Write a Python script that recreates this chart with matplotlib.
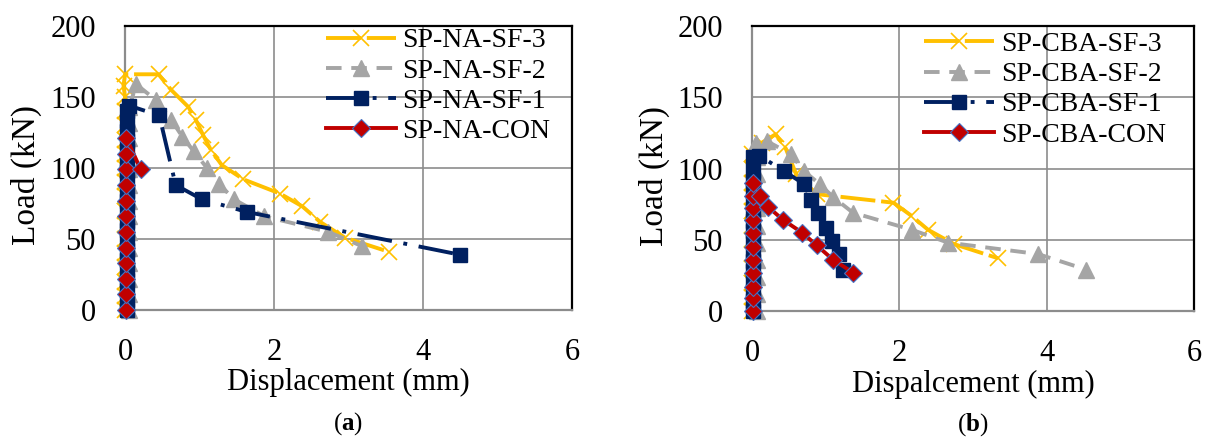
import matplotlib
matplotlib.use("Agg")
import matplotlib.pyplot as plt

plt.rcParams['font.family'] = ['Liberation Serif', 'DejaVu Serif']
plt.rcParams['mathtext.fontset'] = 'custom'
plt.rcParams['mathtext.rm'] = 'Liberation Serif'
plt.rcParams['mathtext.bf'] = 'Liberation Serif:bold'

# (a) natural aggregate specimens
na_sf3_x = [0, 0, 0, 0, 0, 0, 0, 0, 0, 0, 0, 0, 0, 0, 0, 0, -0.02, 0.0,
            0.45, 0.62, 0.85, 0.95, 1.05, 1.15, 1.30, 1.59, 2.08, 2.38, 2.62, 2.95, 3.54]
na_sf3_y = [0, 10, 20, 30, 40, 50, 60, 70, 80, 90, 100, 110, 120, 130, 140, 150, 158, 166,
            166, 155, 143, 134, 123, 113, 102, 92, 82, 73, 62, 51, 41]

na_sf2_x = [0.06, 0.06, 0.06, 0.06, 0.06, 0.06, 0.06, 0.06, 0.06, 0.06, 0.06, 0.06, 0.06, 0.06,
            0.15, 0.41, 0.62, 0.77, 0.92, 1.10, 1.26, 1.46, 1.87, 2.73, 3.18]
na_sf2_y = [0, 11, 22, 33, 44, 55, 66, 77, 88, 99, 110, 121, 132, 143,
            159, 148, 134, 122, 112, 100, 89, 78, 66, 55, 45]

na_sf1_x = [0.03, 0.03, 0.03, 0.03, 0.03, 0.03, 0.03, 0.03, 0.03, 0.03, 0.03,
            0.03, 0.03, 0.03, 0.03, 0.03, 0.03, 0.03, 0.03, 0.03, 0.03,
            0.05, 0.46, 0.68, 1.03, 1.64, 4.49]
na_sf1_y = [0, 7, 14, 21, 28, 35, 42, 49, 56, 63, 70,
            77, 84, 91, 98, 105, 112, 119, 126, 133, 140,
            144, 137, 88, 78, 69, 39]

na_con_x = [0.02, 0.02, 0.02, 0.02, 0.02, 0.02, 0.02, 0.02, 0.02, 0.02, 0.02, 0.02, 0.21]
na_con_y = [0, 11, 22, 33, 44, 55, 66, 77, 88, 99, 110, 121, 99]

# (b) coal bottom ash specimens
cba_sf3_x = [0, 0, 0, 0, 0, 0, 0, 0, 0, 0, 0, 0, 0.13, 0.32, 0.45, 0.60, 0.88,
             1.92, 2.16, 2.39, 2.74, 3.34]
cba_sf3_y = [0, 10, 20, 30, 40, 50, 60, 70, 80, 90, 100, 110, 118, 124, 115, 96, 82,
             76, 67, 57, 47, 37]

cba_sf2_x = [0.07, 0.07, 0.07, 0.07, 0.07, 0.07, 0.07, 0.07, 0.07, 0.07,
             0.05, 0.21, 0.53, 0.71, 0.92, 1.10, 1.37, 2.17, 2.66, 3.88, 4.54]
cba_sf2_y = [0, 12, 24, 36, 48, 60, 72, 84, 96, 108,
             118, 119, 110, 98, 89, 80, 69, 57, 48, 40, 29]

cba_sf1_x = [0.02, 0.02, 0.02, 0.02, 0.02, 0.02, 0.02, 0.02, 0.02, 0.02,
             0.02, 0.02, 0.02, 0.02, 0.02, 0.02,
             0.10, 0.44, 0.71, 0.80, 0.90, 1.00, 1.09, 1.18, 1.24]
cba_sf1_y = [0, 7, 14, 21, 28, 35, 42, 49, 56, 63,
             70, 77, 84, 91, 98, 108,
             109, 98, 89, 78, 69, 58, 49, 40, 29]

cba_con_x = [0.02, 0.02, 0.02, 0.02, 0.02, 0.02, 0.02, 0.02, 0.02, 0.02, 0.02,
             0.11, 0.22, 0.42, 0.68, 0.88, 1.10, 1.37]
cba_con_y = [0, 9, 17, 27, 36, 45, 55, 64, 72, 81, 90,
             81, 73, 64, 55, 46, 36, 27]

YELLOW = '#FFC000'
GRAY = '#A5A5A5'
NAVY = '#002060'
RED = '#C00000'


def draw_panel(ax, series, xlabel, tag, legend_xy):
    sf3, sf2, sf1, con = series
    ax.plot(sf3[0], sf3[1], color=YELLOW, lw=2.8, dashes=(9, 1.5), marker='x',
            ms=12, mew=1.2, label=sf3[2], clip_on=False, zorder=3)
    ax.plot(sf2[0], sf2[1], color=GRAY, lw=2.8, dashes=(4, 2.5), marker='^',
            ms=12, label=sf2[2], clip_on=False, zorder=4)
    ax.plot(sf1[0], sf1[1], color=NAVY, lw=2.8, dashes=(9, 3, 1, 3), marker='s',
            ms=10, label=sf1[2], clip_on=False, zorder=5)
    ax.plot(con[0], con[1], color=RED, lw=2.8, marker='D', ms=9.5,
            mfc=RED, mec='#4472C4', mew=0.8, label=con[2], clip_on=False, zorder=6)

    ax.set_xlim(0, 6)
    ax.set_ylim(0, 200)
    ax.set_xticks([0, 2, 4, 6])
    ax.set_yticks([0, 50, 100, 150, 200])
    ax.grid(True, color='#8C8C8C', lw=1.2)
    ax.set_axisbelow(True)
    ax.tick_params(length=0, labelsize=22)
    ax.tick_params(axis='y', pad=21)
    ax.tick_params(axis='x', pad=20)
    for s in ('top', 'right'):
        ax.spines[s].set_color('black')
        ax.spines[s].set_linewidth(1.6)
    for s in ('left', 'bottom'):
        ax.spines[s].set_color('#8C8C8C')
        ax.spines[s].set_linewidth(1.6)

    ax.set_xlabel(xlabel, fontsize=22)
    ax.xaxis.set_label_coords(0.5, -0.205)
    ax.set_ylabel('Load (kN)', fontsize=24)
    ax.yaxis.set_label_coords(-0.186, 0.475)

    ax.legend(loc='upper left', bbox_to_anchor=legend_xy, frameon=False,
              fontsize=20, handlelength=2.5, handletextpad=0.25, labelspacing=0.17,
              borderaxespad=0, borderpad=0)
    ax.text(0.5, -0.40, tag, transform=ax.transAxes, ha='center', va='center',
            fontsize=18)


fig = plt.figure(figsize=(12.06, 4.37), dpi=100)
ax1 = fig.add_axes([125 / 1206, 1 - 310 / 437, 447 / 1206, 284 / 437])
ax2 = fig.add_axes([752 / 1206, 1 - 311 / 437, 442 / 1206, 285 / 437])

draw_panel(ax1,
           [(na_sf3_x, na_sf3_y, 'SP-NA-SF-3'),
            (na_sf2_x, na_sf2_y, 'SP-NA-SF-2'),
            (na_sf1_x, na_sf1_y, 'SP-NA-SF-1'),
            (na_con_x, na_con_y, 'SP-NA-CON')],
           'Displacement (mm)', r'($\mathbf{a}$)', (0.45, 0.993))
draw_panel(ax2,
           [(cba_sf3_x, cba_sf3_y, 'SP-CBA-SF-3'),
            (cba_sf2_x, cba_sf2_y, 'SP-CBA-SF-2'),
            (cba_sf1_x, cba_sf1_y, 'SP-CBA-SF-1'),
            (cba_con_x, cba_con_y, 'SP-CBA-CON')],
           'Dispalcement (mm)', r'($\mathbf{b}$)', (0.39, 0.98))

fig.savefig('out.png', dpi=100)
